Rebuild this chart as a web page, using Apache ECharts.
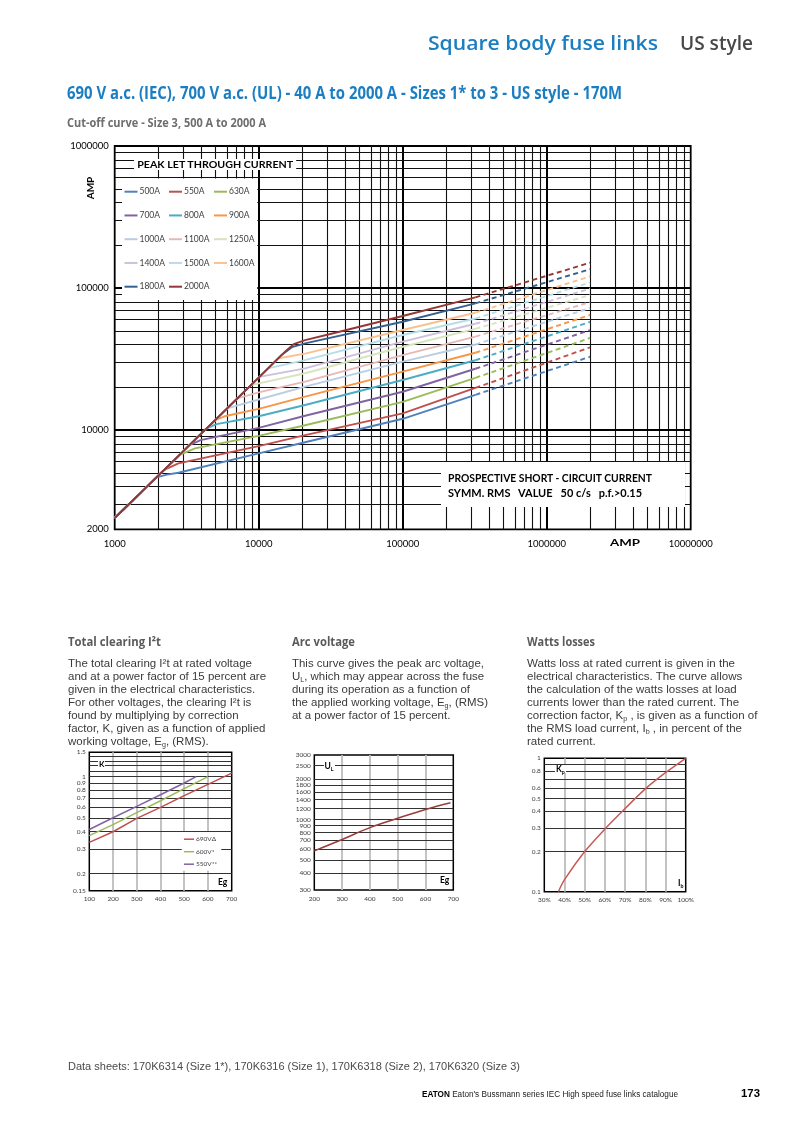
<!DOCTYPE html>
<html><head><meta charset="utf-8">
<script src="https://cdn.jsdelivr.net/npm/echarts/dist/echarts.min.js"></script>
<style>
body{margin:0;background:#fff}
#page{position:relative;width:793px;height:1122px;overflow:hidden;background:#fff}
#chart{position:absolute;left:0;top:0;width:793px;height:1122px}
.t{position:absolute;white-space:nowrap;transform-origin:0 0}
.body{font-family:'Liberation Sans',Arial,sans-serif;font-size:11.3px;line-height:13px;color:#3a3a3a}
sub{font-size:0.62em;line-height:0;vertical-align:-0.3em}
.h{font:700 12.5px/12.5px 'Open Sans',sans-serif;color:#5a5a5a}
.lb{font-family:Lato,sans-serif;font-weight:700;color:#000}
</style></head><body>
<div id="page">
<div id="chart"></div>

<div class="t" data-w="230" style="left:428px;top:33.4px;font:600 20px/20px 'Open Sans',sans-serif;color:#1b7ec2">Square body fuse links</div>
<div class="t" data-w="73" style="left:680px;top:33.4px;font:600 20px/20px 'Open Sans',sans-serif;color:#474747">US style</div>
<div class="t" data-w="555" style="left:67px;top:84px;font:700 17px/17px 'Open Sans',sans-serif;color:#1b7ec2">690 V a.c. (IEC), 700 V a.c. (UL) - 40 A to 2000 A - Sizes 1* to 3 - US style - 170M</div>
<div class="t" data-w="199" style="left:67px;top:116.6px;font:700 12px/12px 'Open Sans',sans-serif;color:#6e6e6e">Cut-off curve - Size 3, 500 A to 2000 A</div>

<!-- main chart texts -->
<div class="t lb" data-w="156" style="left:134px;top:159.2px;font-size:10px;line-height:11px;background:#fff;padding:0 3px"><span class="l">PEAK LET THROUGH CURRENT</span></div>
<div class="t lb" style="left:75px;top:183px;font-size:10px;line-height:10px;width:30px;text-align:center;transform:rotate(-90deg);transform-origin:50% 50%">AMP</div>
<div class="t lb" data-w="30" style="left:610px;top:536.7px;font-size:10px;line-height:10px">AMP</div>
<div style="position:absolute;left:441px;top:462px;width:244px;height:45px;background:#fff"></div>
<div class="t lb" data-w="204" style="left:447.5px;top:472.8px;font-size:10.5px;line-height:10.5px">PROSPECTIVE SHORT - CIRCUIT CURRENT</div>
<div class="t lb" data-w="194" style="left:447.5px;top:487.5px;font-size:10.5px;line-height:10.5px;white-space:pre">SYMM. RMS   VALUE   50 c/s   p.f.&gt;0.15</div>

<!-- section headings -->
<div class="t h" data-w="93" style="left:68px;top:636.4px">Total clearing I²t</div>
<div class="t h" data-w="63" style="left:292px;top:636.4px">Arc voltage</div>
<div class="t h" data-w="68" style="left:527px;top:636.4px">Watts losses</div>

<div class="t body" data-w="184" style="left:68px;top:656.8px"><span class="l">The total clearing I²t at rated voltage</span><br>and at a power factor of 15 percent are<br>given in the electrical characteristics.<br>For other voltages, the clearing I²t is<br>found by multiplying by correction<br>factor, K, given as a function of applied<br>working voltage, E<sub>g</sub>, (RMS).</div>
<div class="t body" data-w="192" style="left:292px;top:656.8px"><span class="l">This curve gives the peak arc voltage,</span><br>U<sub>L</sub>, which may appear across the fuse<br>during its operation as a function of<br>the applied working voltage, E<sub>g</sub>, (RMS)<br>at a power factor of 15 percent.</div>
<div class="t body" data-w="208" style="left:527px;top:656.8px"><span class="l">Watts loss at rated current is given in the</span><br>electrical characteristics. The curve allows<br>the calculation of the watts losses at load<br>currents lower than the rated current. The<br>correction factor, K<sub>p</sub> , is given as a function of<br>the RMS load current, I<sub>b</sub> , in percent of the<br>rated current.</div>

<!-- small chart labels -->
<div class="t lb" style="left:98px;top:759.5px;font-size:8px;line-height:8px;background:#fff;padding:0 1px">K</div>
<div class="t lb" style="left:218px;top:877.5px;font-size:8.5px;line-height:8.5px">Eg</div>
<div class="t lb" style="left:323.5px;top:761.5px;font-size:8.5px;line-height:8.5px;background:#fff;padding:0 1px">U<sub>L</sub></div>
<div class="t lb" style="left:440px;top:875.5px;font-size:8.5px;line-height:8.5px">Eg</div>
<div class="t lb" style="left:555px;top:764.5px;font-size:8.5px;line-height:8.5px;background:#fff;padding:0 1px">K<sub>p</sub></div>
<div class="t lb" style="left:678px;top:878.5px;font-size:8.5px;line-height:8.5px">I<sub>b</sub></div>

<!-- footer -->
<div class="t" data-w="452" style="left:68px;top:1060.8px;font:400 11px/11px 'Liberation Sans',Arial,sans-serif;color:#4a4a4a">Data sheets: 170K6314 (Size 1*), 170K6316 (Size 1), 170K6318 (Size 2), 170K6320 (Size 3)</div>
<div class="t" data-w="256" style="left:422px;top:1090px;font:400 8.5px/8.5px 'Liberation Sans',Arial,sans-serif;color:#222"><b style="color:#000">EATON</b> Eaton's Bussmann series IEC High speed fuse links catalogue</div>
<div class="t" data-w="19" style="left:741px;top:1089.3px;font:700 10px/10px 'Liberation Sans',Arial,sans-serif;color:#000">173</div>

</div>
<script>
// ---------------- DATA ----------------
const ratings = ['500A','550A','630A','700A','800A','900A','1000A','1100A','1250A','1400A','1500A','1600A','1800A','2000A'];

// common rising diagonal (prospective current A, peak let-through A)
const diagX = [1000, 2000, 5000, 10000, 15500];
const diagY = [2400, 4760, 11800, 23400, 36200];

// solid cut-off curves [prospective A, peak A], starting at the knee
const c500  = [[1950,4640],[2300,4850],[2770,5000],[10000,6850],[21000,8200],[100000,12000],[320000,17700]];
const c550  = [[2190,5220],[2770,5820],[10000,7700],[21000,9200],[100000,13100],[320000,19800]];
const c630  = [[2810,6670],[3610,7430],[10000,9100],[21000,10800],[100000,15800],[320000,23300]];
const c700  = [[3300,7830],[3950,8500],[10000,10350],[21000,12600],[100000,18600],[320000,27000]];
const c800  = [[4350,10280],[5100,11000],[10000,12500],[21000,15000],[100000,22500],[320000,31000]];
const c900  = [[4980,11750],[5800,12500],[10000,14100],[21000,17200],[100000,25800],[320000,35000]];
const c1000 = [[6040,14200],[10000,16400],[21000,20200],[100000,30300],[320000,40000]];
const c1100 = [[7110,16700],[10000,18400],[21000,21900],[100000,33700],[320000,45500]];
const c1250 = [[8830,20700],[21000,25100],[100000,38600],[320000,51500]];
const c1400 = [[10100,23700],[21000,27200],[100000,41900],[320000,56000]];
const c1500 = [[11600,27200],[21000,31100],[100000,46700],[320000,61000]];
const c1600 = [[13700,32000],[21000,34500],[100000,50600],[320000,67000]];
const c1800 = [[14200,33300],[17000,38300],[21000,40800],[100000,57900],[320000,78000]];
const c2000 = [[15500,36200],[17500,40200],[21000,43000],[33000,48000],[100000,63500],[320000,86000]];

// dashed extrapolations
const e500  = [[320000,17700],[2000000,32800]];
const e550  = [[320000,19800],[2000000,38200]];
const e630  = [[320000,23300],[2000000,44500]];
const e700  = [[320000,27000],[2000000,50600]];
const e800  = [[320000,31000],[2000000,57700]];
const e900  = [[320000,35000],[2000000,64600]];
const e1000 = [[320000,40000],[2000000,72300]];
const e1100 = [[320000,45500],[2000000,79600]];
const e1250 = [[320000,51500],[2000000,89300]];
const e1400 = [[320000,56000],[2000000,99100]];
const e1500 = [[320000,61000],[2000000,109400]];
const e1600 = [[320000,67000],[2000000,120800]];
const e1800 = [[320000,78000],[2000000,135500]];
const e2000 = [[320000,86000],[2000000,150700]];

const solidCurves = [c500,c550,c630,c700,c800,c900,c1000,c1100,c1250,c1400,c1500,c1600,c1800,c2000];
const dashedCurves = [e500,e550,e630,e700,e800,e900,e1000,e1100,e1250,e1400,e1500,e1600,e1800,e2000];

const mainYLabels = [2000, 10000, 100000, 1000000];

// Total clearing I2t correction factor K vs Eg
const kNames = ['690VΔ','600V*','550V**'];
const eg690 = [100,200,300,400,500,600,700];
const k690  = [0.335,0.40,0.50,0.60,0.73,0.88,1.06];
const eg600 = [100,200,300,400,500,600];
const k600  = [0.375,0.45,0.55,0.67,0.82,1.0];
const eg550 = [100,200,300,400,500,550];
const k550  = [0.415,0.505,0.61,0.74,0.90,1.0];
const kLabels = [0.15,0.2,0.3,0.4,0.5,0.6,0.7,0.8,0.9,1,1.5];

// Arc voltage UL vs Eg
const egArc = [200,300,400,500,600,690];
const ulArc = [585,710,870,1020,1185,1330];
const ulLabels = [300,400,500,600,700,800,900,1000,1200,1400,1600,1800,2000,2500,3000];

// Watts loss factor Kp vs Ib (%)
const ibPct = [37,40,50,60,70,80,90,100];
const kpVal = [0.1,0.123,0.2,0.295,0.42,0.59,0.78,1.0];
const kpLabels = [0.1,0.2,0.3,0.4,0.5,0.6,0.8,1];

// ---------------- STYLE ----------------
const lineColors = ['#4f81bd','#c0504d','#9bbb59','#8064a2','#4bacc6','#f79646','#b9cde5','#e6b9b8','#d7e4bd','#ccc1da','#b7dee8','#fac090','#376092','#953735'];
const kColors = ['#c0504d','#9bbb59','#8064a2'];

// grid line positions
const xMainMinor = []; for (const d of [1e3,1e4,1e5,1e6]) for (let k=2;k<=9;k++) xMainMinor.push(d*k);
const yMainMinor = []; for (let k=3;k<=9;k++) yMainMinor.push(1000*k);
for (const d of [1e4,1e5]) for (let k=2;k<=9;k++) yMainMinor.push(d*k);
const xMainMajor = [1e4,1e5,1e6];
const yMainMajor = [1e4,1e5];

const kGridY = [0.2,0.3,0.4,0.5,0.6,0.7,0.8,0.9,1,1.1,1.2,1.3,1.4];
const kGridX = [200,300,400,500,600];
const ulGridY = [400,500,600,700,800,900,1000,1200,1400,1600,1800,2000,2500];
const ulGridX = [300,400,500,600];
const kpGridY = [0.2,0.3,0.4,0.5,0.6,0.7,0.8,0.9];
const kpGridX = [40,50,60,70,80,90];

const fmt = v => String(parseFloat(Number(v).toPrecision(6)));
const smallLabel = {fontSize:6.5, color:'#404040', fontFamily:'Lato'};

function gridHelper(idx, anchor, xs, ys, xStyle, yStyle){
  return {
    type:'line', xAxisIndex:idx, yAxisIndex:idx, data:[anchor], symbol:'none',
    lineStyle:{opacity:0}, silent:true, z:1, animation:false, emphasis:{disabled:true},
    markLine:{silent:true, z:1, symbol:['none','none'], animation:false, label:{show:false},
      emphasis:{disabled:true},
      data: xs.map(v=>({xAxis:v, lineStyle:xStyle(v)})).concat(ys.map(v=>({yAxis:v, lineStyle:yStyle(v)})))
    }
  };
}

const series = [];
series.push(gridHelper(0,[1000,2000], xMainMinor.concat(xMainMajor), yMainMinor.concat(yMainMajor),
  v => xMainMajor.includes(v) ? {color:'#000',width:2,type:'solid'} : {color:'#111',width:1.1,type:'solid'},
  v => yMainMajor.includes(v) ? {color:'#000',width:2,type:'solid'} : {color:'#111',width:1.1,type:'solid'}));
series.push(gridHelper(1,[100,0.15], kGridX, kGridY,
  v => ({color:'#bdbdbd',width:1.8,type:'solid'}), v => ({color:'#333',width:1.2,type:'solid'})));
series.push(gridHelper(2,[200,300], ulGridX, ulGridY,
  v => ({color:'#bdbdbd',width:1.8,type:'solid'}), v => ({color:'#333',width:1.2,type:'solid'})));
series.push(gridHelper(3,[30,0.1], kpGridX, kpGridY,
  v => ({color:'#bdbdbd',width:1.8,type:'solid'}), v => ({color:'#333',width:1.2,type:'solid'})));

function withDiagonal(curve){
  const kx = curve[0][0];
  const pre = diagX.map((x,i)=>[x,diagY[i]]).filter(p => p[0] < kx*0.8);
  return pre.concat(curve);
}

ratings.forEach((r,i)=>{
  series.push({name:r, type:'line', xAxisIndex:0, yAxisIndex:0, data:withDiagonal(solidCurves[i]),
    symbol:'none', smooth:false, z:3, silent:true, emphasis:{disabled:true},
    lineStyle:{color:lineColors[i], width:1.9, join:'round'}, itemStyle:{color:lineColors[i]}});
});
ratings.forEach((r,i)=>{
  series.push({name:r+' ext', type:'line', xAxisIndex:0, yAxisIndex:0, data:dashedCurves[i],
    symbol:'none', z:3, silent:true, emphasis:{disabled:true},
    lineStyle:{color:lineColors[i], width:1.9, type:[5,3.5]}, itemStyle:{color:lineColors[i]}});
});

const kSets = [[eg690,k690],[eg600,k600],[eg550,k550]];
kNames.forEach((n,i)=>{
  series.push({name:n, type:'line', xAxisIndex:1, yAxisIndex:1,
    data:kSets[i][0].map((x,j)=>[x,kSets[i][1][j]]), symbol:'none', z:3, silent:true,
    emphasis:{disabled:true}, lineStyle:{color:kColors[i], width:1.5}, itemStyle:{color:kColors[i]}});
});
series.push({name:'UL', type:'line', xAxisIndex:2, yAxisIndex:2, data:egArc.map((x,j)=>[x,ulArc[j]]),
  symbol:'none', smooth:0.4, z:3, silent:true, emphasis:{disabled:true},
  lineStyle:{color:'#9b3c3a', width:1.5}, itemStyle:{color:'#9b3c3a'}});
series.push({name:'Kp', type:'line', xAxisIndex:3, yAxisIndex:3, data:ibPct.map((x,j)=>[x,kpVal[j]]),
  symbol:'none', smooth:0.3, z:3, silent:true, emphasis:{disabled:true},
  lineStyle:{color:'#c65a55', width:1.5}, itemStyle:{color:'#c65a55'}});

const legendCommon = {orient:'vertical', selectedMode:false, icon:'rect', itemWidth:13, itemHeight:2, itemGap:13.75, padding:0,
  textStyle:{fontSize:8.5, color:'#404040', fontFamily:'Lato', lineHeight:10, padding:[0,0,0,-3]}, z:4};

const option = {
  animation:false,
  backgroundColor:'#fff',
  grid:[
    {left:114.7, top:146, width:576, height:383.3, show:true, borderColor:'#000', borderWidth:1.8, backgroundColor:'transparent'},
    {left:89.3, top:752.3, width:142.4, height:138.4, show:true, borderColor:'#000', borderWidth:1.5, backgroundColor:'transparent'},
    {left:314.3, top:755, width:139, height:135, show:true, borderColor:'#000', borderWidth:1.5, backgroundColor:'transparent'},
    {left:544.3, top:758.3, width:141.4, height:133.4, show:true, borderColor:'#000', borderWidth:1.5, backgroundColor:'transparent'}
  ],
  xAxis:[
    {type:'log', logBase:10, gridIndex:0, min:1000, max:10000000, axisLine:{show:false}, axisTick:{show:false}, splitLine:{show:false},
      axisLabel:{formatter:fmt, fontSize:9.5, color:'#000', fontFamily:'Lato', margin:10}},
    {type:'value', gridIndex:1, min:100, max:700, interval:100, axisLine:{show:false}, axisTick:{show:false}, splitLine:{show:false},
      axisLabel:Object.assign({margin:5}, smallLabel)},
    {type:'value', gridIndex:2, min:200, max:700, interval:100, axisLine:{show:false}, axisTick:{show:false}, splitLine:{show:false},
      axisLabel:Object.assign({margin:5}, smallLabel)},
    {type:'value', gridIndex:3, min:30, max:100, interval:10, axisLine:{show:false}, axisTick:{show:false}, splitLine:{show:false},
      axisLabel:Object.assign({margin:5, formatter: v => v + '%'}, smallLabel)}
  ],
  yAxis:[
    {type:'log', logBase:10, gridIndex:0, min:2000, max:1000000, axisLine:{show:false}, axisTick:{show:false}, splitLine:{show:false},
      axisLabel:{customValues:mainYLabels, formatter:fmt, fontSize:9.5, color:'#000', fontFamily:'Lato', margin:6}},
    {type:'log', logBase:10, gridIndex:1, min:0.15, max:1.5, axisLine:{show:false}, axisTick:{show:false}, splitLine:{show:false},
      axisLabel:Object.assign({customValues:kLabels, formatter:fmt, margin:3.5}, smallLabel)},
    {type:'log', logBase:10, gridIndex:2, min:300, max:3000, axisLine:{show:false}, axisTick:{show:false}, splitLine:{show:false},
      axisLabel:Object.assign({customValues:ulLabels, formatter:fmt, margin:3.5}, smallLabel)},
    {type:'log', logBase:10, gridIndex:3, min:0.1, max:1, axisLine:{show:false}, axisTick:{show:false}, splitLine:{show:false},
      axisLabel:Object.assign({customValues:kpLabels, formatter:fmt, margin:3.5}, smallLabel)}
  ],
  legend:[
    Object.assign({left:124.5, top:186.7, data:['500A','700A','1000A','1400A','1800A']}, legendCommon),
    Object.assign({left:169, top:186.7, data:['550A','800A','1100A','1500A','2000A']}, legendCommon),
    Object.assign({left:214, top:186.7, data:['630A','900A','1250A','1600A']}, legendCommon),
    {left:181.7, top:832, orient:'vertical', selectedMode:false, data:kNames, icon:'rect', itemWidth:10, itemHeight:1.5, itemGap:5.5,
      padding:[3.7,4,3,2.3], backgroundColor:'#fff', z:4,
      textStyle:{fontSize:6.5, color:'#404040', fontFamily:'Lato', lineHeight:6, padding:[0,0,0,-3]}}
  ],
  graphic:[
    {type:'rect', silent:true, z:2, shape:{x:122, y:178.5, width:135.3, height:121.5}, style:{fill:'#fff'}}
  ],
  series:series
};

const chart = echarts.init(document.getElementById('chart'), null, {renderer:'canvas'});
chart.setOption(option);

function fitAll(){
  document.querySelectorAll('[data-w]').forEach(el=>{
    el.style.transform = '';
    const ref = el.querySelector('.l') || el;
    const w = ref.getBoundingClientRect().width;
    const target = parseFloat(el.dataset.w);
    if (w > 0) el.style.transform = 'scaleX(' + (target / w) + ')';
  });
}
fitAll();
if (document.fonts && document.fonts.ready) document.fonts.ready.then(fitAll);
</script>
</body></html>
